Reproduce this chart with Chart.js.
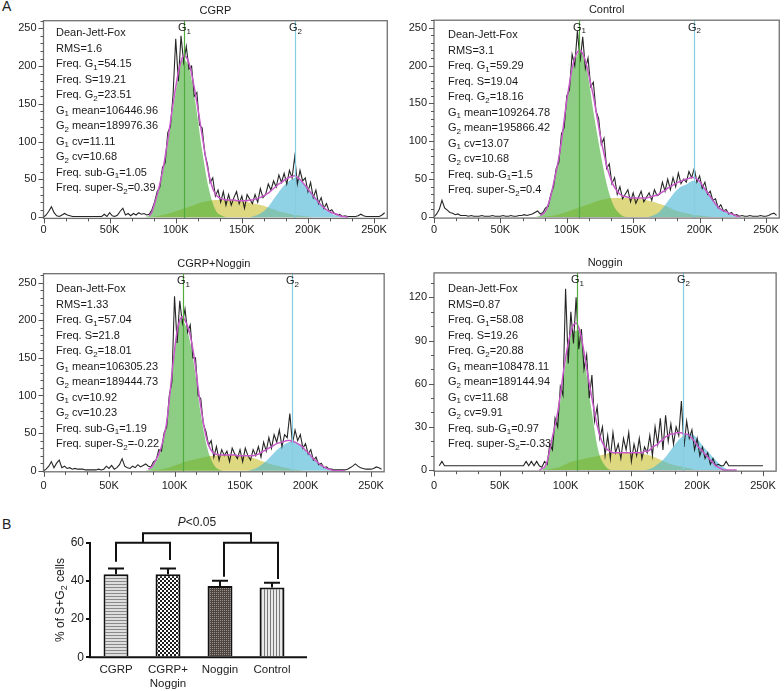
<!DOCTYPE html>
<html>
<head>
<meta charset="utf-8">
<script src="https://cdn.jsdelivr.net/npm/chart.js@4.4.0/dist/chart.umd.min.js"></script>
<style>
  body { margin: 0; background: #fff; }
  #wrap { position: relative; width: 784px; height: 691px; overflow: hidden; font-family: "Liberation Sans", Arial, sans-serif; color: #222; }
  .box { position: absolute; }
  .lab { position: absolute; font-size: 14px; }
</style>
</head>
<body>
<div id="wrap">
  <div class="lab" style="left:2px;top:-2px">A</div>
  <div class="lab" style="left:2px;top:516px">B</div>
  <div class="box" style="left:0;top:0;width:392px;height:240px"><canvas id="h1"></canvas></div>
  <div class="box" style="left:392px;top:0;width:392px;height:240px"><canvas id="h2"></canvas></div>
  <div class="box" style="left:0;top:250px;width:392px;height:245px"><canvas id="h3"></canvas></div>
  <div class="box" style="left:392px;top:250px;width:392px;height:245px"><canvas id="h4"></canvas></div>
  <div class="box" style="left:0;top:500px;width:400px;height:191px"><canvas id="bars"></canvas></div>
</div>
<script>
// ---- bin positions (K) ----
const binXs = []; for (let v = 0; v <= 258; v += 2) binXs.push(v);
const fitXs = []; for (let v = 80; v <= 230; v += 2) fitXs.push(v);
const compXs = []; for (let v = 70; v <= 235; v += 5) compXs.push(v);

const countTicks = [0, 50, 100, 150, 200, 250];
const nogginTicks = [0, 30, 60, 90, 120];
const dnaTicks = [0, 50, 100, 150, 200, 250];

// ---- CGRP ----
const cgrpRaw = [
  0,3,8,14,6,2,1,3,5,3,  2,1,1,1,1,1,1,1,1,1,  1,1,1,4,1,6,2,1,3,8,  12,3,5,2,5,3,6,4,5,3,
  4,10,20,34,40,66,72,112,120,162,  236,180,240,205,226,196,200,160,165,122,
  118,84,70,46,52,28,36,20,34,16,  30,16,26,34,18,28,12,30,24,18,
  30,20,38,26,30,44,36,48,40,56,  46,58,44,62,52,80,44,62,48,52,
  34,46,26,36,18,26,12,18,8,10,  5,3,4,1,2,1,1,1,1,2,  4,2,1,1,1,1,1,1,3,6];
const cgrpFit = [
  2,7,18,30,44,60,80,102,126,150,  172,192,206,214,212,204,190,172,152,130,
  108,86,66,50,38,31,27,25,24,23,  23,23,23,22,22,22,22,22,23,23,
  24,25,26,28,30,32,35,38,41,44,  46,49,51,53,54,55,53,50,46,42,
  37,33,28,24,20,16,13,10,8,6,  5,4,2,1,1,0];
const cgrpG1 = [0,0,3,24,57,110,165,208,198,150, 88,38,10,2,0,0,0,0,0,0, 0,0,0,0,0,0,0,0,0,0, 0,0,0,0];
const cgrpS  = [0,0,0,1,3,5,8,11,14,17, 20,22,23,23,23,22,21,20,18,16, 13,10,7,5,3,2,1,0,0,0, 0,0,0,0];
const cgrpG2 = [0,0,0,0,0,0,0,0,0,0, 0,0,0,0,0,0,0,0,2,6, 14,26,38,47,52,47,38,28,18,9, 3,1,0,0];
const cgrpMeans = [106.44696, 189.97636];
const cgrpStats = ['Dean-Jett-Fox','RMS=1.6','Freq. G_1=54.15','Freq. S=19.21','Freq. G_2=23.51',
  'G_1 mean=106446.96','G_2 mean=189976.36','G_1 cv=11.11','G_2 cv=10.68','Freq. sub-G_1=1.05','Freq. super-S_2=0.39'];

// ---- Control ----
const ctrlRaw = [
  0,4,10,22,12,9,6,5,3,4,  2,2,2,1,2,1,1,1,2,1,  1,1,2,1,1,1,2,1,1,2,  1,1,2,2,3,2,3,4,6,8,
  4,6,12,14,30,40,64,72,110,118,  160,168,215,200,246,205,238,196,210,172,
  178,140,130,96,104,64,70,44,52,30,  40,24,30,36,20,32,18,26,34,20,
  26,32,22,36,28,30,46,34,50,36,  52,40,58,44,50,46,60,52,64,46,
  54,38,46,30,34,22,24,12,16,8,  10,4,6,2,3,1,2,1,1,2,  1,1,1,2,1,1,2,4,5,2];
const ctrlFit = [
  2,4,8,16,28,44,60,78,100,128,  154,176,196,210,218,220,216,206,192,176,
  160,140,120,100,84,68,56,46,39,34,  30,28,27,26,25,25,25,25,25,25,
  25,26,27,28,29,31,33,35,38,40,  42,44,46,47,49,50,51,52,52,50,
  47,42,37,32,27,22,17,13,10,8,  7,5,4,3,1,1];
const ctrlG1 = [0,0,2,14,44,88,152,200,218,196, 140,88,44,16,4,0,0,0,0,0, 0,0,0,0,0,0,0,0,0,0, 0,0,0,0];
const ctrlS  = [0,0,0,1,2,4,7,10,13,16, 19,22,24,25,25,25,25,24,22,20, 17,14,10,7,5,3,2,1,0,0, 0,0,0,0];
const ctrlG2 = [0,0,0,0,0,0,0,0,0,0, 0,0,0,0,0,0,0,0,0,2, 7,18,30,39,43,48,45,36,24,13, 6,2,0,0];
const ctrlMeans = [109.26478, 195.86642];
const ctrlStats = ['Dean-Jett-Fox','RMS=3.1','Freq. G_1=59.29','Freq. S=19.04','Freq. G_2=18.16',
  'G_1 mean=109264.78','G_2 mean=195866.42','G_1 cv=13.07','G_2 cv=10.68','Freq. sub-G_1=1.5','Freq. super-S_2=0.4'];

// ---- CGRP+Noggin ----
const cnRaw = [
  0,2,6,12,4,10,14,4,6,3,  4,2,3,2,2,2,1,1,1,1,  1,2,1,2,6,3,7,2,4,8,  16,6,4,3,6,4,8,5,7,9,
  6,5,12,14,28,26,50,58,100,118,  232,170,226,196,215,184,194,150,150,100,
  96,62,52,34,40,18,32,14,28,20,  26,12,30,22,16,28,12,30,20,14,
  28,20,32,18,38,26,44,30,48,38,  54,32,48,44,76,36,54,40,48,30,
  36,22,28,14,18,8,10,4,5,2,  2,1,1,1,1,1,2,4,6,9,  6,4,3,2,2,2,3,5,4,2];
const cnFit = [
  2,4,8,15,22,32,46,64,94,128,  160,186,200,205,200,192,180,162,138,110,
  86,64,46,34,27,23,22,21,21,21,  21,21,21,21,20,20,20,20,20,20,
  20,21,22,24,26,28,30,32,34,36,  37,38,39,40,40,39,38,36,34,31,
  27,24,20,16,13,10,7,5,3,2,  1,0,0,0,0,0];
const cnG1 = [0,0,1,9,30,76,156,200,185,140, 76,30,8,1,0,0,0,0,0,0, 0,0,0,0,0,0,0,0,0,0, 0,0,0,0];
const cnS  = [0,0,0,1,2,4,7,10,13,15, 17,19,20,21,21,21,20,19,17,14, 11,8,6,4,2,1,0,0,0,0, 0,0,0,0];
const cnG2 = [0,0,0,0,0,0,0,0,0,0, 0,0,0,0,0,0,0,0,2,6, 13,22,30,36,39,35,27,18,10,4, 1,0,0,0];
const cnMeans = [106.30523, 189.44473];
const cnStats = ['Dean-Jett-Fox','RMS=1.33','Freq. G_1=57.04','Freq. S=21.8','Freq. G_2=18.01',
  'G_1 mean=106305.23','G_2 mean=189444.73','G_1 cv=10.92','G_2 cv=10.23','Freq. sub-G_1=1.19','Freq. super-S_2=-0.22'];

// ---- Noggin ----
const nogRaw = [
  null,null,3,6,3,3,3,3,3,3,  3,3,3,3,3,3,3,3,3,3,  3,3,3,3,3,3,3,3,3,3,  3,3,3,3,3,6,3,6,3,6,
  3,2,6,4,18,14,36,30,58,52,  126,74,110,88,120,84,98,70,80,50,
  66,34,44,22,30,10,24,8,26,12,  18,8,22,14,26,6,18,10,22,8,
  16,12,24,10,30,18,36,14,38,20,  32,18,30,24,48,16,34,22,28,14,
  22,10,16,8,12,4,8,3,4,3,  3,6,3,3,3,3,3,3,3,3,  3,3,3,3,3,3,null,null,null,null];
const nogFit = [
  0,1,2,6,14,23,31,40,52,66,  78,88,96,101,102,99,92,82,71,60,
  50,40,31,24,19,16,14,13,12,12,  12,12,12,12,12,12,12,12,12,12,
  13,13,14,16,17,18,20,21,23,24,  25,25,26,26,26,25,25,24,22,20,
  17,15,13,11,9,7,5,3,2,1,  0,0,0,0,0,0];
const nogG1 = [0,0,0,3,21,42,74,96,97,72, 40,13,3,0,0,0,0,0,0,0, 0,0,0,0,0,0,0,0,0,0, 0,0,0,0];
const nogS  = [0,0,0,0,1,2,4,6,7,8, 9,10,11,12,12,12,12,12,11,10, 8,6,4,3,2,1,0,0,0,0, 0,0,0,0];
const nogG2 = [0,0,0,0,0,0,0,0,0,0, 0,0,0,0,0,0,0,0,0,1, 4,8,14,20,24,25,22,16,11,6, 2,0,0,0];
const nogMeans = [108.47811, 189.14494];
const nogStats = ['Dean-Jett-Fox','RMS=0.87','Freq. G_1=58.08','Freq. S=19.26','Freq. G_2=20.88',
  'G_1 mean=108478.11','G_2 mean=189144.94','G_1 cv=11.68','G_2 cv=9.91','Freq. sub-G_1=0.97','Freq. super-S_2=-0.33'];

// ---- panel B ----
const groups = ['CGRP', ['CGRP+', 'Noggin'], 'Noggin', 'Control'];
const meanPct = [43.5, 43.5, 37.3, 36.6];
const semPct = [3.0, 3.0, 2.8, 2.4];

const FONT = '"Liberation Sans", Arial, sans-serif';

function pairs(xs, ys) { return xs.map((x, i) => ({ x: x, y: ys[i] })); }

function drawRich(ctx, text, x, y, size, align) {
  const parts = text.split(/_(\d)/);
  const fn = size + 'px ' + FONT, fs = Math.round(size * 0.72) + 'px ' + FONT;
  let w = 0;
  parts.forEach((p, i) => { ctx.font = i % 2 ? fs : fn; w += ctx.measureText(p).width; });
  let cx = align === 'center' ? x - w / 2 : x;
  ctx.textAlign = 'left';
  ctx.textBaseline = 'middle';
  parts.forEach((p, i) => {
    ctx.font = i % 2 ? fs : fn;
    ctx.fillText(p, cx, i % 2 ? y + size * 0.3 : y);
    cx += ctx.measureText(p).width;
  });
}

const histDecor = {
  id: 'histDecor',
  afterDatasetsDraw(chart) {
    const o = chart.options.plugins.histDecor;
    const { ctx, chartArea: a, scales: { x, y } } = chart;
    ctx.save();
    // G1 / G2 position lines
    const cols = ['rgb(80,170,60)', 'rgb(135,205,225)'];
    o.means.forEach((m, i) => {
      const px = Math.round(x.getPixelForValue(m)) + 0.5;
      ctx.strokeStyle = cols[i];
      ctx.lineWidth = 1.2;
      ctx.beginPath(); ctx.moveTo(px, a.top); ctx.lineTo(px, a.bottom); ctx.stroke();
      ctx.fillStyle = '#222';
      drawRich(ctx, i ? 'G_2' : 'G_1', px, a.top + 7.5, 11, 'center');
    });
    // frame
    ctx.strokeStyle = '#707070';
    ctx.lineWidth = 1.3;
    ctx.strokeRect(a.left, a.top, a.right - a.left, a.bottom - a.top);
    // tick marks
    ctx.strokeStyle = '#555';
    ctx.lineWidth = 1;
    ctx.beginPath();
    for (let v = 0; v <= y.max; v += o.minorY) {
      const py = Math.round(y.getPixelForValue(v)) + 0.5;
      const len = o.yTicks.includes(v) ? 5 : 3;
      ctx.moveTo(a.left - len, py); ctx.lineTo(a.left, py);
    }
    for (let k = 0; k * 50 / 3 <= x.max + 0.01; k++) {
      const px = Math.round(x.getPixelForValue(k * 50 / 3)) + 0.5;
      const len = k % 3 === 0 ? 5 : 3;
      ctx.moveTo(px, a.bottom); ctx.lineTo(px, a.bottom + len);
    }
    ctx.stroke();
    // statistics text
    ctx.fillStyle = '#1a1a1a';
    o.stats.forEach((t, i) => drawRich(ctx, t, a.left + o.tx, a.top + o.ty + i * 15.5, 11, 'left'));
    // title
    ctx.font = '11px ' + FONT;
    ctx.textAlign = 'center';
    ctx.textBaseline = 'middle';
    ctx.fillText(o.title, (a.left + a.right) / 2, a.top - 10);
    ctx.restore();
  }
};

function makeHist(p) {
  new Chart(document.getElementById(p.el), {
    type: 'line',
    data: {
      datasets: [
        { data: pairs(fitXs, p.fit), borderColor: '#c75ac8', borderWidth: 1.5, pointRadius: 0, fill: false, cubicInterpolationMode: 'monotone' },
        { data: pairs(binXs, p.raw), borderColor: 'rgba(20,20,20,0.92)', borderWidth: 1.1, pointRadius: 0, fill: false, tension: 0 },
        { data: pairs(compXs, p.g1), borderWidth: 0, pointRadius: 0, fill: 'origin', backgroundColor: 'rgba(72,176,56,0.62)', cubicInterpolationMode: 'monotone' },
        { data: pairs(compXs, p.g2), borderWidth: 0, pointRadius: 0, fill: 'origin', backgroundColor: 'rgba(70,180,212,0.6)', cubicInterpolationMode: 'monotone' },
        { data: pairs(compXs, p.s), borderWidth: 0, pointRadius: 0, fill: 'origin', backgroundColor: 'rgba(205,195,60,0.65)', cubicInterpolationMode: 'monotone' }
      ]
    },
    options: {
      responsive: true,
      maintainAspectRatio: false,
      animation: false,
      layout: { padding: { top: p.padTop, right: p.padRight, left: 0, bottom: 0 } },
      plugins: {
        legend: { display: false },
        tooltip: { enabled: false },
        histDecor: { means: p.means, stats: p.stats, title: p.title, yTicks: p.yTicks, minorY: p.minorY, tx: p.tx, ty: p.ty }
      },
      scales: {
        x: {
          type: 'linear', min: 0, max: 260,
          afterFit: (s) => { s.height = p.xh; },
          afterBuildTicks: (s) => { s.ticks = dnaTicks.map(v => ({ value: v })); },
          grid: { display: false, drawTicks: false },
          border: { display: false },
          ticks: { padding: p.xpad, maxRotation: 0, autoSkip: false, color: '#222', font: { size: 11, family: FONT },
                   callback: (v) => v === 0 ? '0' : v + 'K' }
        },
        y: {
          min: p.ymin, max: p.ymax,
          afterFit: (s) => { s.width = p.yw; },
          afterBuildTicks: (s) => { s.ticks = p.yTicks.map(v => ({ value: v })); },
          grid: { display: false, drawTicks: false },
          border: { display: false },
          ticks: { padding: 7, color: '#222', font: { size: 11, family: FONT } }
        }
      }
    },
    plugins: [histDecor]
  });
}

makeHist({ el: 'h1', title: 'CGRP', raw: cgrpRaw, fit: cgrpFit, g1: cgrpG1, s: cgrpS, g2: cgrpG2, means: cgrpMeans, stats: cgrpStats,
  ymin: -1.5, ymax: 260, yTicks: countTicks, minorY: 10, padTop: 20.7, padRight: 2.5, yw: 43.5, xh: 21.6, xpad: 5, tx: 12.5, ty: 12.6 });
makeHist({ el: 'h2', title: 'Control', raw: ctrlRaw, fit: ctrlFit, g1: ctrlG1, s: ctrlS, g2: ctrlG2, means: ctrlMeans, stats: ctrlStats,
  ymin: -1.5, ymax: 260, yTicks: countTicks, minorY: 10, padTop: 20.2, padRight: 4.7, yw: 42, xh: 21.9, xpad: 5, tx: 14, ty: 14.8 });
makeHist({ el: 'h3', title: 'CGRP+Noggin', raw: cnRaw, fit: cnFit, g1: cnG1, s: cnS, g2: cnG2, means: cnMeans, stats: cnStats,
  ymin: -1.5, ymax: 262, yTicks: countTicks, minorY: 10, padTop: 23.7, padRight: 2.5, yw: 43.5, xh: 23.2, xpad: 8, tx: 12.5, ty: 15.6 });
makeHist({ el: 'h4', title: 'Noggin', raw: nogRaw, fit: nogFit, g1: nogG1, s: nogS, g2: nogG2, means: nogMeans, stats: nogStats,
  ymin: -0.8, ymax: 137, yTicks: nogginTicks, minorY: 10, padTop: 22.9, padRight: 4.7, yw: 42, xh: 23.8, xpad: 8, tx: 14, ty: 16.4 });

// ---- panel B ----
function pattern(w, h, draw) {
  const c = document.createElement('canvas');
  c.width = w; c.height = h;
  const g = c.getContext('2d');
  draw(g);
  return g.createPattern(c, 'repeat');
}
const fills = [
  pattern(4, 3, g => { g.fillStyle = '#dedede'; g.fillRect(0, 0, 4, 3); g.fillStyle = '#8a8a8a'; g.fillRect(0, 0, 4, 1); }),
  pattern(4, 4, g => { g.fillStyle = '#fff'; g.fillRect(0, 0, 4, 4); g.fillStyle = '#1e1e1e'; g.fillRect(0, 0, 2, 2); g.fillRect(2, 2, 2, 2); }),
  pattern(2, 2, g => { g.fillStyle = '#4e4540'; g.fillRect(0, 0, 2, 2); g.fillStyle = '#9a928c'; g.fillRect(0, 0, 1, 1); }),
  pattern(3, 1, g => { g.fillStyle = '#e8e8e8'; g.fillRect(0, 0, 3, 1); g.fillStyle = '#7a7a7a'; g.fillRect(0, 0, 1, 1); })
];
const legEnds = [50, 51, 42.2, 41];

const barDecor = {
  id: 'barDecor',
  afterDatasetsDraw(chart) {
    const { ctx, chartArea: a, scales: { x, y } } = chart;
    ctx.save();
    ctx.strokeStyle = '#111';
    ctx.lineWidth = 2;
    // x axis line
    ctx.beginPath(); ctx.moveTo(a.left - 1, a.bottom); ctx.lineTo(307, a.bottom); ctx.stroke();
    // error bars
    ctx.beginPath();
    meanPct.forEach((m, i) => {
      const px = x.getPixelForValue(i);
      const top = y.getPixelForValue(m + semPct[i]);
      ctx.moveTo(px, y.getPixelForValue(m)); ctx.lineTo(px, top);
      ctx.moveTo(px - 8, top); ctx.lineTo(px + 8, top);
    });
    ctx.stroke();
    // significance brackets
    const cx = [0, 1, 2, 3].map(i => x.getPixelForValue(i) + i * 2);
    const yb = y.getPixelForValue(60), yt = y.getPixelForValue(65);
    const m1 = (cx[0] + cx[1]) / 2, m2 = (cx[2] + cx[3]) / 2;
    ctx.beginPath();
    ctx.moveTo(cx[0], y.getPixelForValue(legEnds[0])); ctx.lineTo(cx[0], yb); ctx.lineTo(cx[1], yb); ctx.lineTo(cx[1], y.getPixelForValue(legEnds[1]));
    ctx.moveTo(cx[2], y.getPixelForValue(legEnds[2])); ctx.lineTo(cx[2], yb); ctx.lineTo(cx[3], yb); ctx.lineTo(cx[3], y.getPixelForValue(legEnds[3]));
    ctx.moveTo(m1, yb); ctx.lineTo(m1, yt); ctx.lineTo(m2, yt); ctx.lineTo(m2, yb);
    ctx.stroke();
    // P value
    ctx.fillStyle = '#222';
    ctx.textBaseline = 'middle';
    ctx.textAlign = 'left';
    ctx.font = 'italic 12px ' + FONT;
    const wP = ctx.measureText('P').width;
    ctx.font = '12px ' + FONT;
    const wR = ctx.measureText('<0.05').width;
    const sx = (m1 + m2) / 2 - (wP + wR) / 2, py = y.getPixelForValue(70.5);
    ctx.font = 'italic 12px ' + FONT; ctx.fillText('P', sx, py);
    ctx.font = '12px ' + FONT; ctx.fillText('<0.05', sx + wP, py);
    // y title
    ctx.translate(61, (a.top + a.bottom) / 2);
    ctx.rotate(-Math.PI / 2);
    drawRich(ctx, '% of S+G_2 cells', 0, 0, 12, 'center');
    ctx.restore();
  }
};

new Chart(document.getElementById('bars'), {
  type: 'bar',
  data: {
    labels: groups,
    datasets: [{ data: meanPct, backgroundColor: fills, borderColor: '#111', borderWidth: 2, barPercentage: 0.48, categoryPercentage: 1 }]
  },
  options: {
    responsive: true,
    maintainAspectRatio: false,
    animation: false,
    layout: { padding: { top: 42.7, right: 102, left: 0, bottom: 0 } },
    plugins: { legend: { display: false }, tooltip: { enabled: false } },
    scales: {
      x: {
        afterFit: (s) => { s.height = 33.7; },
        grid: { display: false, drawTicks: false },
        border: { display: false },
        ticks: { padding: 6, color: '#222', font: { size: 11.5, family: FONT } }
      },
      y: {
        min: 0, max: 60,
        afterFit: (s) => { s.width = 90; },
        grid: { drawOnChartArea: false, drawTicks: true, tickLength: 4, color: '#111', lineWidth: 2 },
        border: { display: true, color: '#111', width: 2 },
        ticks: { stepSize: 20, padding: 2, color: '#222', font: { size: 12, family: FONT } }
      }
    }
  },
  plugins: [barDecor]
});
</script>
</body>
</html>
